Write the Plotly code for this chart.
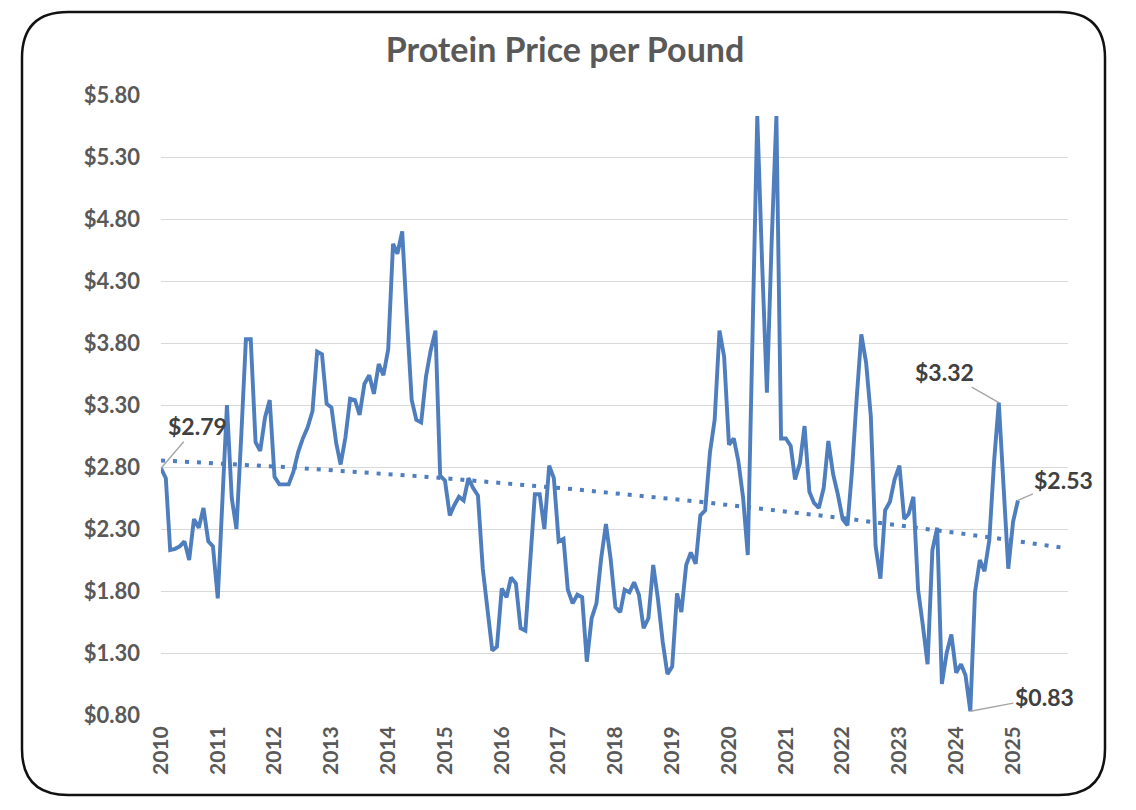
import numpy as np
import pandas as pd
import plotly.graph_objects as go

# monthly protein price, $/lb, Jan 2010 - Feb 2025
p2010 = [2.79, 2.71, 2.13, 2.14, 2.16, 2.20, 2.05, 2.38, 2.31, 2.47, 2.20, 2.16]
p2011 = [1.74, 2.50, 3.30, 2.55, 2.30, 3.05, 3.83, 3.83, 3.00, 2.93, 3.20, 3.34]
p2012 = [2.72, 2.66, 2.66, 2.66, 2.76, 2.92, 3.03, 3.12, 3.25, 3.73, 3.71, 3.31]
p2013 = [3.28, 2.99, 2.82, 3.04, 3.35, 3.34, 3.22, 3.47, 3.54, 3.39, 3.63, 3.54]
p2014 = [3.75, 4.60, 4.52, 4.70, 4.00, 3.34, 3.18, 3.16, 3.53, 3.74, 3.90, 2.73]
p2015 = [2.69, 2.41, 2.49, 2.56, 2.53, 2.71, 2.63, 2.57, 1.98, 1.68, 1.32, 1.35]
p2016 = [1.82, 1.75, 1.91, 1.86, 1.50, 1.48, 2.01, 2.58, 2.58, 2.30, 2.81, 2.71]
p2017 = [2.20, 2.22, 1.81, 1.70, 1.77, 1.75, 1.23, 1.58, 1.70, 2.06, 2.34, 2.06]
p2018 = [1.67, 1.63, 1.81, 1.79, 1.87, 1.77, 1.50, 1.58, 2.01, 1.74, 1.39, 1.13]
p2019 = [1.19, 1.78, 1.63, 2.01, 2.11, 2.02, 2.41, 2.45, 2.92, 3.18, 3.90, 3.69]
p2020 = [2.98, 3.03, 2.85, 2.55, 2.09, 3.85, 5.63, 4.45, 3.40, 4.60, 5.63, 3.03]
p2021 = [3.03, 2.97, 2.70, 2.83, 3.13, 2.60, 2.51, 2.47, 2.63, 3.01, 2.74, 2.58]
p2022 = [2.38, 2.33, 2.75, 3.35, 3.87, 3.64, 3.21, 2.16, 1.90, 2.45, 2.52, 2.70]
p2023 = [2.81, 2.38, 2.42, 2.56, 1.81, 1.52, 1.21, 2.13, 2.31, 1.05, 1.30, 1.45]
p2024 = [1.14, 1.21, 1.12, 0.83, 1.79, 2.05, 1.96, 2.21, 2.85, 3.32, 2.60, 1.98]
p2025 = [2.36, 2.53]

price = (p2010 + p2011 + p2012 + p2013 + p2014 + p2015 + p2016 + p2017
         + p2018 + p2019 + p2020 + p2021 + p2022 + p2023 + p2024 + p2025)
months = pd.date_range("2010-01-01", periods=len(price), freq="MS")

# points that carry a data label: (date, value)
labelled = [("2010-01-01", 2.79), ("2024-10-01", 3.32),
            ("2024-04-01", 0.83), ("2025-02-01", 2.53)]

year_ticks = pd.date_range("2010-01-01", "2025-01-01", freq="YS")

# 2nd order polynomial trendline, forecast forward to end of 2025
days = (months - months[0]).days.values
coef = np.polyfit(days, price, 2)
trend_x = pd.date_range(months[0], "2025-12-01", freq="MS")
trend_y = np.polyval(coef, (trend_x - months[0]).days.values)

BLUE = "#4e7ebd"
GREY = "#595959"
FONT = "Lato"

fig = go.Figure()
fig.add_trace(go.Scatter(x=trend_x, y=trend_y, mode="lines",
                         line=dict(color=BLUE, width=4, dash="4px,8px"),
                         hoverinfo="skip"))
fig.add_trace(go.Scatter(x=months, y=price, mode="lines",
                         line=dict(color=BLUE, width=3.9)))

# label offsets (px) for the four called-out points
offsets = [(36, -42), (-54, -31), (74, -14), (46, -20)]
for (d, v), (ax, ay) in zip(labelled, offsets):
    fig.add_annotation(x=d, y=v, text="$%.2f" % v, showarrow=True,
                       arrowhead=0, arrowwidth=1.4, arrowcolor="#a6a6a6",
                       ax=ax, ay=ay, standoff=0,
                       font=dict(family=FONT, size=23, color="#404040",
                                 weight="bold"))

# page body adds an 8px margin, so screen px -> figure px needs OFF
W, H, OFF = 1136, 810, 8
L, T, pw, ph = 161, 95, 907, 620


def px(x):
    return (x - L) / pw


def py(y):
    return 1 - (y - T) / ph


# rounded frame round the whole chart, drawn in paper coords
x0, x1, y0, y1, rad = 22, 1105, 12, 795, 46
path = (f"M {px(x0 + rad)} {py(y0)} L {px(x1 - rad)} {py(y0)} "
        f"Q {px(x1)} {py(y0)} {px(x1)} {py(y0 + rad)} "
        f"L {px(x1)} {py(y1 - rad)} Q {px(x1)} {py(y1)} {px(x1 - rad)} {py(y1)} "
        f"L {px(x0 + rad)} {py(y1)} Q {px(x0)} {py(y1)} {px(x0)} {py(y1 - rad)} "
        f"L {px(x0)} {py(y0 + rad)} Q {px(x0)} {py(y0)} {px(x0 + rad)} {py(y0)} Z")
fig.add_shape(type="path", path=path, xref="paper", yref="paper",
              line=dict(color="#111111", width=2.5), layer="above")

fig.update_layout(
    width=W, height=H,
    margin=dict(l=L - OFF, r=W - (L - OFF) - pw, t=T - OFF,
                b=H - (T - OFF) - ph),
    paper_bgcolor="white", plot_bgcolor="white",
    showlegend=False,
    title=dict(text="Protein Price per Pound", x=(565 - OFF) / W,
               xref="container", y=1 - (50 - OFF) / H, yref="container",
               xanchor="center", yanchor="middle",
               font=dict(family=FONT, size=34, color=GREY, weight="bold")),
    xaxis=dict(type="date", range=["2010-01-01", "2025-12-20"],
               tickvals=year_ticks, tickformat="%Y", tickangle=-90,
               showgrid=False, zeroline=False, showline=False,
               ticks="", ticklabelstandoff=6,
               tickfont=dict(family=FONT, size=21, color=GREY, weight="bold")),
    yaxis=dict(range=[0.8, 5.8], tick0=0.8, dtick=0.5, tickformat="$.2f",
               showgrid=True, gridcolor="#d9d9d9", gridwidth=1.3,
               zeroline=False, showline=False, ticks="",
               ticklabelstandoff=20,
               tickfont=dict(family=FONT, size=22, color=GREY, weight="bold")),
)

fig.write_html("out.html")
